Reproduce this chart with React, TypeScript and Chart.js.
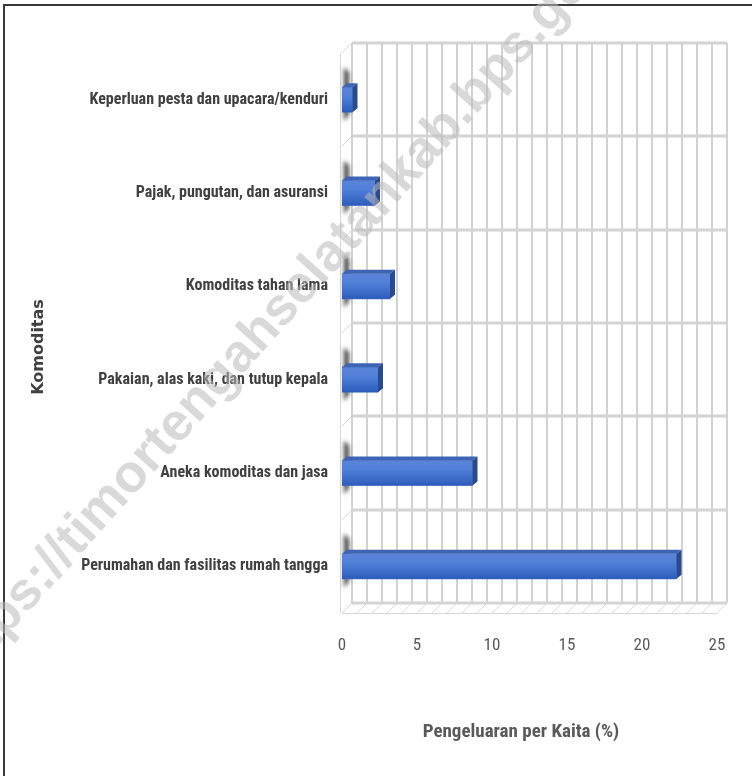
import { useEffect, useRef } from "react";
import { Chart, registerables } from "chart.js";
Chart.register(...registerables);

const categories = [
  "Keperluan pesta dan upacara/kenduri",
  "Pajak, pungutan, dan asuransi",
  "Komoditas tahan lama",
  "Pakaian, alas kaki, dan tutup kepala",
  "Aneka komoditas dan jasa",
  "Perumahan dan fasilitas rumah tangga",
];
const values = [0.7, 2.2, 3.2, 2.4, 8.7, 22.3];
const xMin = 0;
const xMax = 25;
const xLabelStep = 5;
const xGridStep = 1;
const xTitle = "Pengeluaran per Kaita (%)";
const yTitle = "Komoditas";
const watermark = "https://timortengahselatankab.bps.go.id";

const NARROW = "'Liberation Sans Narrow', 'Arial Narrow', 'Roboto Condensed', sans-serif";
const DX = 10;
const DY = -10;

const wallPlugin = {
  id: "wall3d",
  beforeDatasetsDraw(chart: any) {
    const { ctx, chartArea: a, scales } = chart;
    const x = scales.x;
    const y = scales.y;
    const backTop = a.top + DY;
    const backBottom = a.bottom + DY;
    ctx.save();
    for (let v = xMin; v <= xMax; v += xGridStep) {
      const px = Math.round(x.getPixelForValue(v)) + DX;
      ctx.strokeStyle = "#d2d2d2";
      ctx.lineWidth = 2;
      ctx.beginPath();
      ctx.moveTo(px, backTop);
      ctx.lineTo(px, backBottom);
      ctx.stroke();
      ctx.strokeStyle = "#dcdcdc";
      ctx.lineWidth = 1;
      ctx.beginPath();
      ctx.moveTo(px, backBottom);
      ctx.lineTo(px - DX, a.bottom);
      ctx.stroke();
    }
    for (let i = 0; i <= categories.length; i++) {
      const py = Math.round(y.getPixelForValue(i - 0.5)) + DY;
      ctx.strokeStyle = "#d4d4d4";
      ctx.lineWidth = 3;
      ctx.beginPath();
      ctx.moveTo(a.left + DX, py);
      ctx.lineTo(a.right + DX, py);
      ctx.stroke();
      ctx.strokeStyle = "#d8d8d8";
      ctx.lineWidth = 1;
      ctx.beginPath();
      ctx.moveTo(a.left + DX, py);
      ctx.lineTo(a.left, py - DY);
      ctx.stroke();
    }
    ctx.strokeStyle = "#d8d8d8";
    ctx.lineWidth = 1;
    ctx.beginPath();
    ctx.moveTo(a.left - 1.5, a.top);
    ctx.lineTo(a.left - 1.5, a.bottom);
    ctx.stroke();
    ctx.beginPath();
    ctx.moveTo(a.left, a.bottom + 0.5);
    ctx.lineTo(a.right, a.bottom + 0.5);
    ctx.stroke();
    const meta = chart.getDatasetMeta(0);
    meta.data.forEach((el: any) => {
      const p = el.getProps(["y", "height"], true);
      const top = p.y - p.height / 2;
      const bot = p.y + p.height / 2;
      ctx.save();
      ctx.filter = "blur(2px)";
      ctx.fillStyle = "rgba(20,20,20,0.8)";
      ctx.beginPath();
      ctx.moveTo(a.left + 2, top - 20);
      ctx.lineTo(a.left + 7, top - 15);
      ctx.lineTo(a.left + 7, bot + 2);
      ctx.lineTo(a.left + 2, bot + 9);
      ctx.closePath();
      ctx.fill();
      ctx.restore();
    });
    ctx.restore();
  },
  afterDatasetsDraw(chart: any) {
    const { ctx } = chart;
    const meta = chart.getDatasetMeta(0);
    const d = 5;
    const e = 4;
    ctx.save();
    meta.data.forEach((el: any) => {
      const p = el.getProps(["x", "y", "base", "height"], true);
      const top = p.y - p.height / 2;
      const bot = p.y + p.height / 2;
      const g = ctx.createLinearGradient(0, top, 0, bot);
      g.addColorStop(0, "#5a84d6");
      g.addColorStop(0.35, "#5180da");
      g.addColorStop(1, "#2e5cbb");
      ctx.fillStyle = g;
      ctx.fillRect(p.base, top, p.x - p.base, p.height);
      ctx.fillStyle = "#3e64b4";
      ctx.beginPath();
      ctx.moveTo(p.base, top);
      ctx.lineTo(p.x, top);
      ctx.lineTo(p.x + d, top - e);
      ctx.lineTo(p.base + d, top - e);
      ctx.closePath();
      ctx.fill();
      ctx.fillStyle = "#2a4a8e";
      ctx.beginPath();
      ctx.moveTo(p.x, top);
      ctx.lineTo(p.x + d, top - e);
      ctx.lineTo(p.x + d, bot - e);
      ctx.lineTo(p.x, bot);
      ctx.closePath();
      ctx.fill();
    });
    ctx.restore();
  },
  afterDraw(chart: any) {
    const { ctx } = chart;
    ctx.save();
    // axis titles
    ctx.fillStyle = "#595959";
    ctx.font = `bold 19px ${NARROW}`;
    ctx.textAlign = "center";
    ctx.textBaseline = "middle";
    ctx.fillText(xTitle, 521, 732);
    ctx.save();
    ctx.translate(39, 347);
    ctx.rotate(-Math.PI / 2);
    ctx.fillStyle = "#404040";
    ctx.font = "bold 16px 'DejaVu Sans', sans-serif";
    ctx.fillText(yTitle, 0, 0);
    ctx.restore();
    // watermark
    ctx.translate(-41, 689);
    ctx.rotate((-48 * Math.PI) / 180);
    ctx.font = "bold 53px 'Liberation Sans', Arial, sans-serif";
    ctx.fillStyle = "rgba(185,185,185,0.55)";
    ctx.textAlign = "left";
    ctx.textBaseline = "alphabetic";
    ctx.fillText(watermark, 0, 0);
    ctx.restore();
  },
};

export default function App() {
  const ref = useRef<HTMLCanvasElement>(null);
  useEffect(() => {
    document.body.style.margin = "0";
    const chart = new Chart(ref.current!, {
      type: "bar",
      data: {
        labels: categories,
        datasets: [
          {
            data: values,
            backgroundColor: "#4472c4",
            borderWidth: 0,
            barThickness: 25,
          },
        ],
      },
      options: {
        indexAxis: "y",
        animation: false,
        responsive: false,
        layout: { padding: { top: 53, right: 35, left: 0, bottom: 0 } },
        plugins: { legend: { display: false }, tooltip: { enabled: false } },
        scales: {
          x: {
            min: xMin,
            max: xMax,
            border: { display: false },
            grid: { display: false, drawTicks: false },
            ticks: {
              stepSize: xLabelStep,
              padding: 23,
              color: "#595959",
              font: { family: NARROW, size: 17 },
            },
            afterFit(scale: any) {
              scale.height = 163;
            },
          },
          y: {
            border: { display: false },
            grid: { display: false, drawTicks: false },
            ticks: {
              padding: 14,
              color: "#404040",
              font: { family: NARROW, size: 16, weight: "bold" },
            },
            afterFit(scale: any) {
              scale.width = 342;
            },
          },
        },
      },
      plugins: [wallPlugin],
    });
    return () => chart.destroy();
  }, []);
  return (
    <div style={{ position: "absolute", left: 0, top: 0, width: 752, height: 776, background: "#fff" }}>
      <div
        style={{
          position: "absolute",
          left: 3,
          top: 4,
          width: 760,
          height: 790,
          borderTop: "2px solid #3a3a3a",
          borderLeft: "2px solid #3a3a3a",
        }}
      />
      <canvas ref={ref} width={752} height={776} style={{ position: "absolute", left: 0, top: 0 }} />
    </div>
  );
}
